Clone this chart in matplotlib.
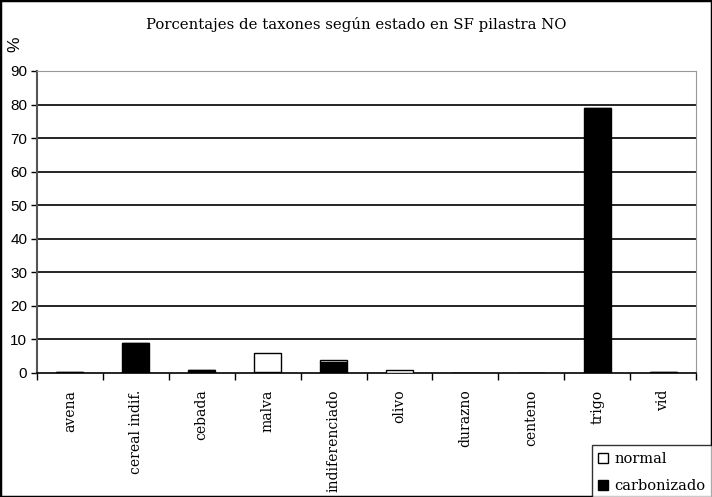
import matplotlib
matplotlib.use("Agg")
import matplotlib.pyplot as plt
import numpy as np
from matplotlib.patches import Rectangle

categories = ["avena", "cereal indif.", "cebada", "malva", "indiferenciado",
              "olivo", "durazno", "centeno", "trigo", "vid"]
carbonizado = [0.3, 8.8, 0.9, 0.3, 3.4, 0.0, 0.0, 0.0, 79.0, 0.4]
normal = [0.0, 0.0, 0.0, 5.6, 0.5, 0.8, 0.0, 0.0, 0.0, 0.0]
yticks = [0, 10, 20, 30, 40, 50, 60, 70, 80, 90]

serif = ['DejaVu Serif']
sans = ['Liberation Sans', 'DejaVu Sans']
plt.rcParams['font.family'] = serif

fig = plt.figure(figsize=(7.12, 4.97), dpi=100)
ax = fig.add_axes([37/712, 1-373/497, (696-37)/712, (373-71)/497])

x = np.arange(len(categories))
w = 0.41
ax.bar(x, carbonizado, width=w, color="black", edgecolor="black", linewidth=1, label="carbonizado", zorder=3)
ax.bar(x, normal, width=w, bottom=carbonizado, color="white", edgecolor="black", linewidth=1, label="normal", zorder=3)

ax.set_xlim(-0.5, len(categories)-0.5)
ax.set_ylim(0, 90)
ax.set_yticks(yticks)
ax.set_yticklabels([str(v) for v in yticks], fontsize=11, family=sans)
for v in yticks[1:-1]:
    ax.axhline(v, color="black", linewidth=1.2, zorder=1)

ax.set_xticks(x)
ax.set_xticklabels(categories, rotation=90, fontsize=10, va="top", family=serif)
ax.set_xticks(np.arange(-0.5, len(categories)), minor=True)
ax.tick_params(axis="x", which="major", length=0, pad=12)
ax.tick_params(axis="x", which="minor", length=5, width=1, direction="out", color="black")
ax.tick_params(axis="y", length=4, width=1, direction="out", pad=3)

ax.spines["left"].set_color("#555555")
ax.spines["left"].set_linewidth(1.5)
ax.spines["bottom"].set_color("black")
ax.spines["bottom"].set_linewidth(1.2)
ax.spines["top"].set_color("#999999")
ax.spines["right"].set_color("#999999")

fig.text(0.5, 1-24/497, "Porcentajes de taxones según estado en SF pilastra NO",
         ha="center", va="center", fontsize=10.7, family=serif)
fig.text(15/712, 1-44/497, "%", ha="center", va="center", fontsize=12.5,
         rotation=90, family=sans)

handles, labels = ax.get_legend_handles_labels()
leg = fig.legend(handles[::-1], labels[::-1], loc="lower right",
                 bbox_to_anchor=(1.0, -0.005), prop={'family': serif, 'size': 10.5},
                 frameon=True, fancybox=False, edgecolor="black", handlelength=0.7,
                 handleheight=0.7, handletextpad=0.4, borderpad=0.45,
                 labelspacing=0.9, borderaxespad=0.0)
leg.get_frame().set_linewidth(1)

fig.patches.append(Rectangle((0, 0), 1, 1, transform=fig.transFigure,
                             fill=False, edgecolor="black", linewidth=2.5))

fig.savefig("out.png", dpi=100)
